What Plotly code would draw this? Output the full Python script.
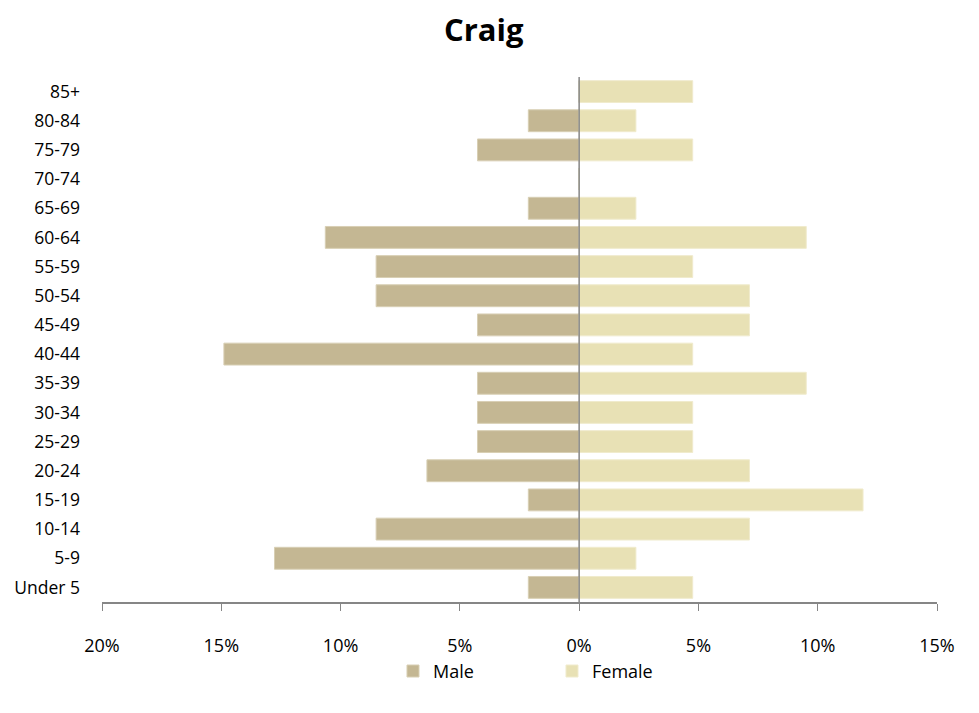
import plotly.graph_objects as go

ages = ["Under 5", "5-9", "10-14", "15-19", "20-24", "25-29", "30-34", "35-39",
        "40-44", "45-49", "50-54", "55-59", "60-64", "65-69", "70-74", "75-79",
        "80-84", "85+"]
male = [2.13, 12.77, 8.51, 2.13, 6.38, 4.26, 4.26, 4.26,
        14.89, 4.26, 8.51, 8.51, 10.64, 2.13, 0.0, 4.26, 2.13, 0.0]
female = [4.76, 2.38, 7.14, 11.90, 7.14, 4.76, 4.76, 9.52,
          4.76, 7.14, 7.14, 4.76, 9.52, 2.38, 0.0, 4.76, 2.38, 4.76]
tick_vals = [-20, -15, -10, -5, 0, 5, 10, 15]
tick_text = ["20%", "15%", "10%", "5%", "0%", "5%", "10%", "15%"]

font = "Open Sans"

fig = go.Figure()
fig.add_trace(go.Bar(
    y=ages, x=[-v for v in male], name="Male", orientation="h",
    marker=dict(color="#C4B793", line=dict(color="#D8CFB4", width=1)),
))
fig.add_trace(go.Bar(
    y=ages, x=female, name="Female", orientation="h",
    marker=dict(color="#E8E1B5", line=dict(color="#F0EBCD", width=1)),
))
fig.add_shape(type="line", xref="x", yref="paper", x0=0, x1=0, y0=0, y1=1,
              line=dict(color="#868686", width=1.5))

fig.update_layout(
    width=979, height=713,
    barmode="overlay", bargap=0.25,
    plot_bgcolor="white", paper_bgcolor="white",
    margin=dict(l=94, r=50, t=69, b=119, autoexpand=False),
    title=dict(text="<b>Craig</b>", x=0.486, xanchor="center", y=0.969, yanchor="middle",
               font=dict(family=font, size=31, color="black")),
    font=dict(family=font, size=17, color="black"),
    xaxis=dict(range=[-20, 15], tickvals=tick_vals, ticktext=tick_text,
               showgrid=False, zeroline=False, showline=True, linecolor="#868686",
               linewidth=1.5, ticks="outside", ticklen=7, tickcolor="#868686",
               tickfont=dict(size=18), ticklabelstandoff=20, automargin=False),
    yaxis=dict(showgrid=False, zeroline=False, showline=False, ticks="",
               tickfont=dict(size=17.5), categoryorder="array", categoryarray=ages,
               automargin=False, ticklabelstandoff=21),
    legend=dict(orientation="h", x=0.3485, xanchor="left", y=-0.132, yanchor="middle",
                font=dict(size=18), entrywidth=114, entrywidthmode="pixels",
                traceorder="normal", itemwidth=30, bgcolor="rgba(0,0,0,0)"),
    showlegend=True,
)
fig.write_html("out.html")
